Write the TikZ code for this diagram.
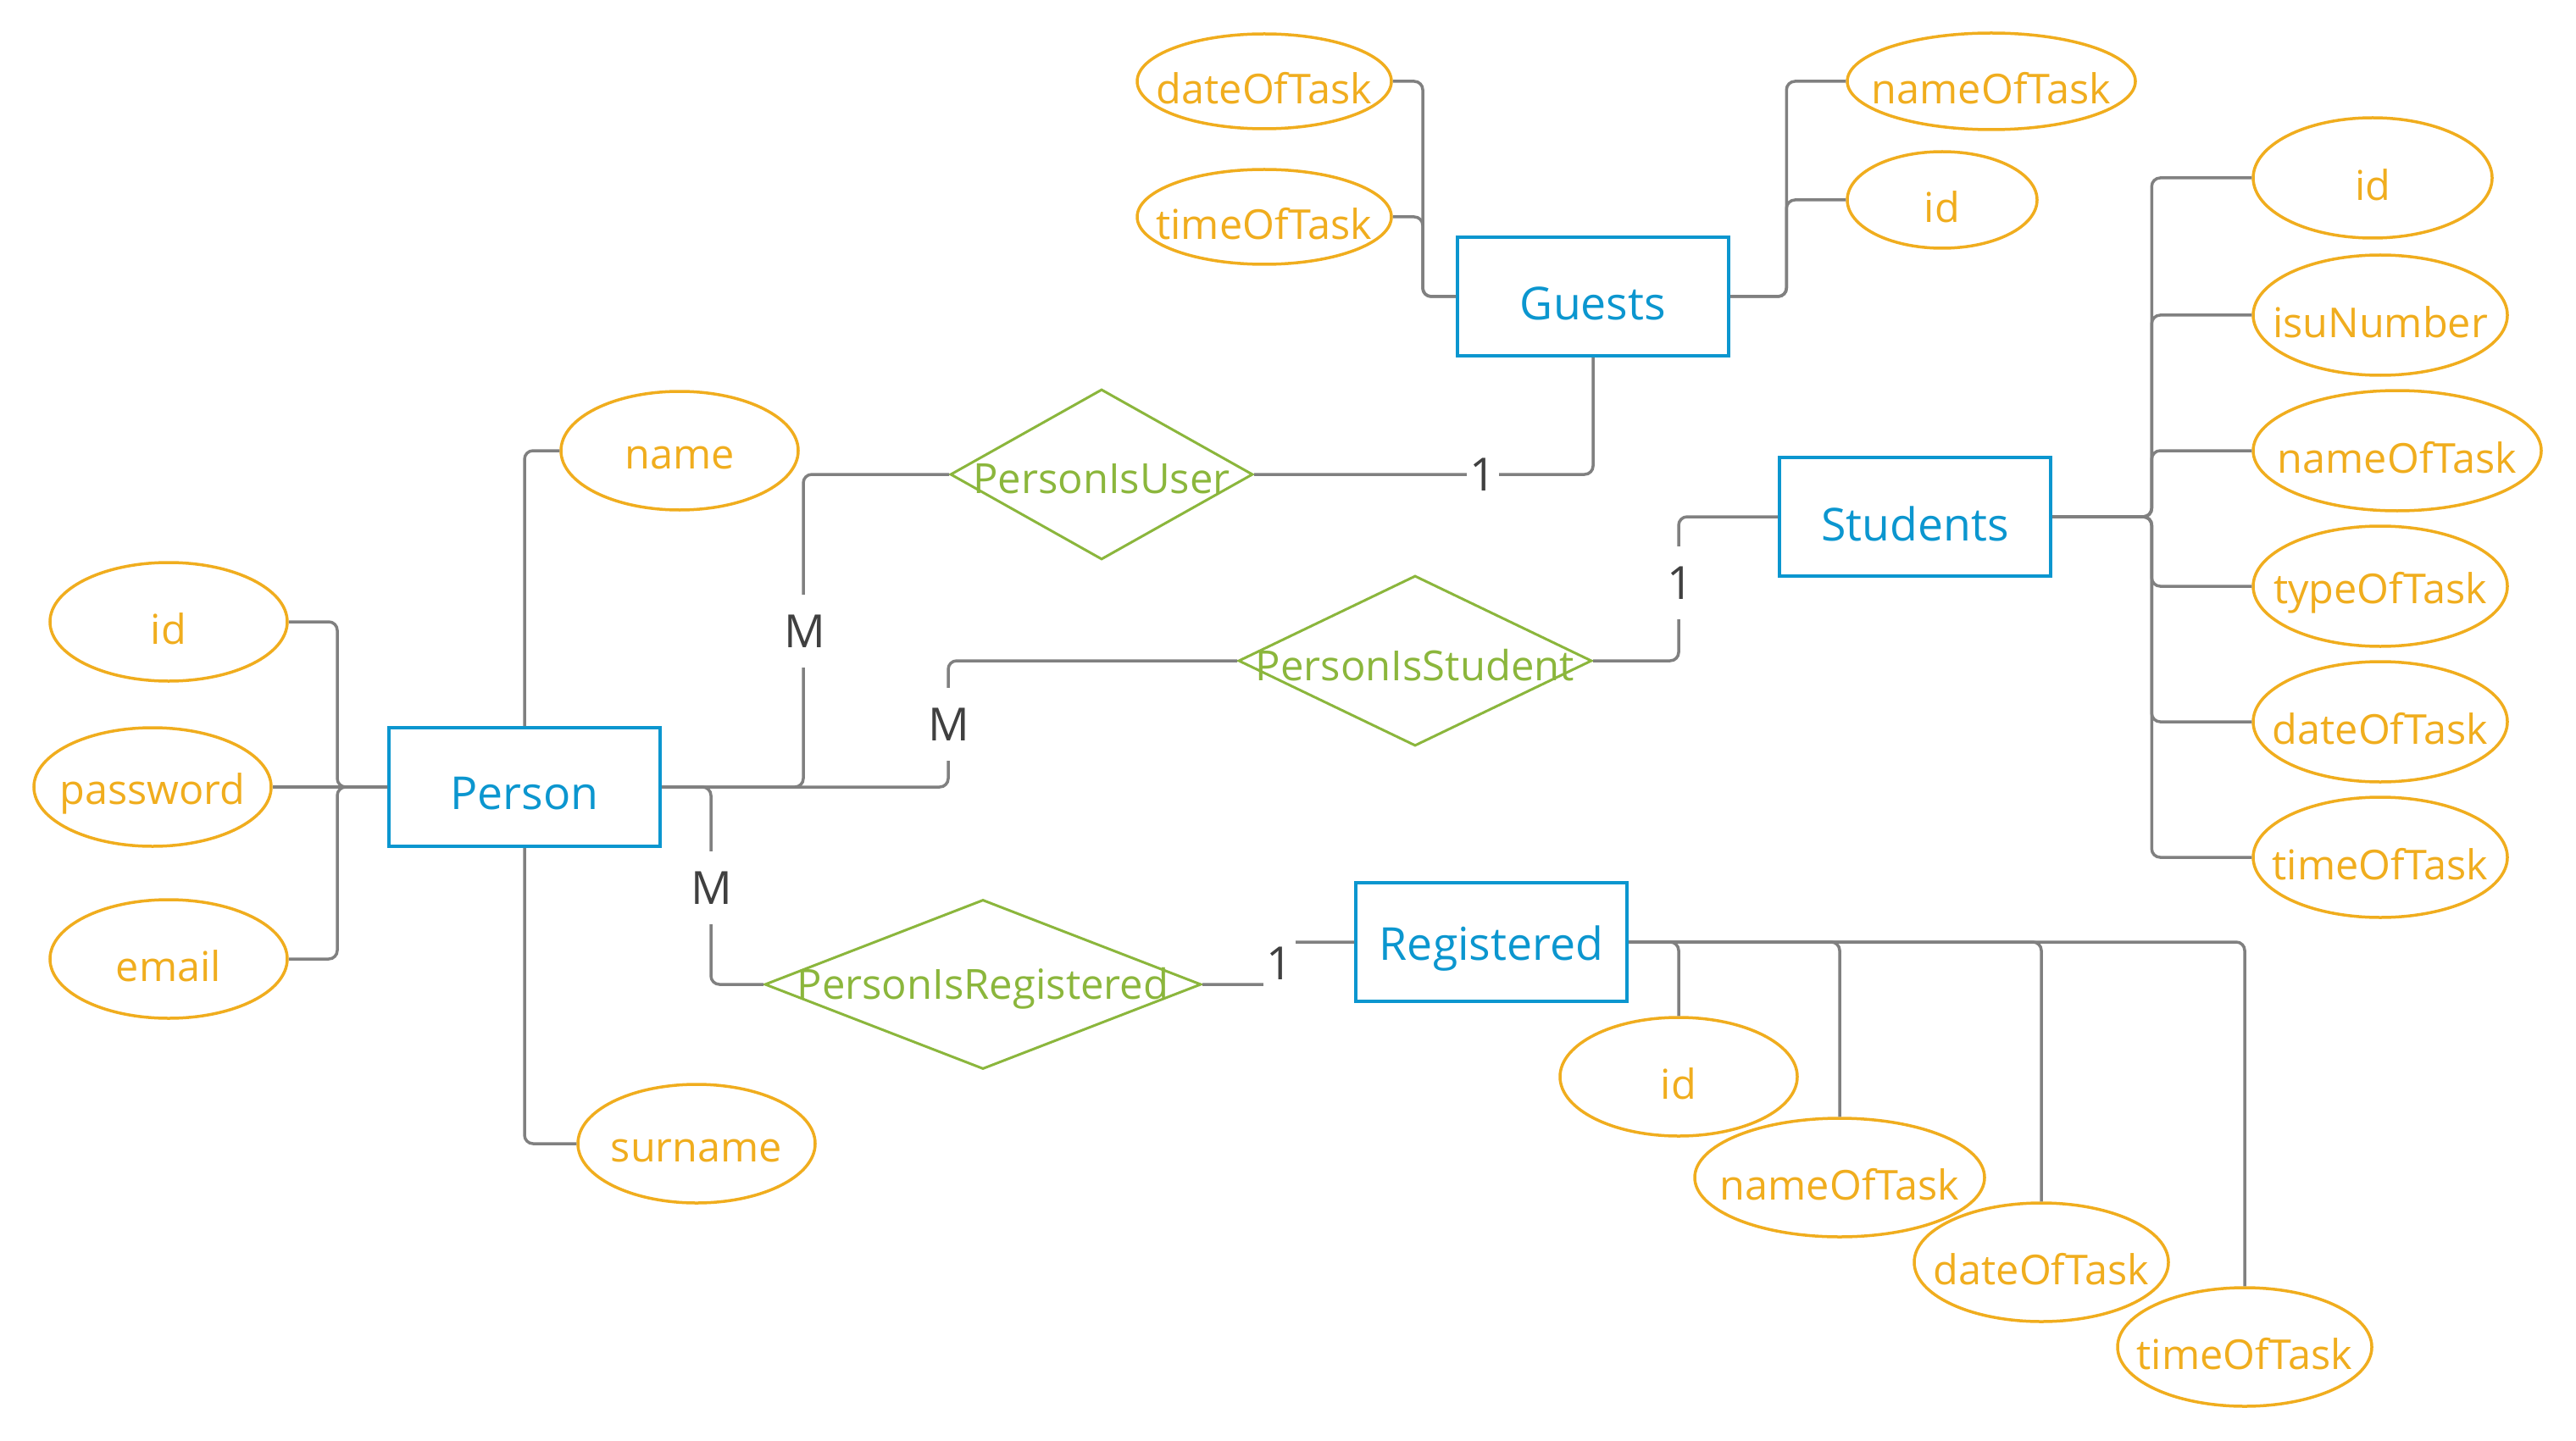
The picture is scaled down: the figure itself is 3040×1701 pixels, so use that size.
\documentclass[tikz,border=0pt]{standalone}
\usepackage{fontspec}
\setmainfont{Open Sans}
\usetikzlibrary{shapes.geometric}
\definecolor{attc}{HTML}{F0AD1E}
\definecolor{entc}{HTML}{0B96CF}
\definecolor{relc}{HTML}{8BB63C}
\definecolor{linec}{HTML}{808080}
\definecolor{cardc}{HTML}{404040}
\begin{document}
\begin{tikzpicture}[x=0.5pt,y=-0.5pt,
  ent/.style={draw=entc, line width=2pt, minimum width=160pt, minimum height=70pt, inner sep=0pt, label={[text=entc, font=\fontsize{26.8}{30}\selectfont, yshift=-4pt]center:#1}},
  att/.style={ellipse, draw=attc, line width=1.75pt, inner sep=0pt, label={[text=attc, font=\fontsize{24.3}{28}\selectfont, yshift=-4pt]center:#1}},
  rel/.style={diamond, draw=relc, line width=1.5pt, inner sep=0pt, label={[text=relc, font=\fontsize{24.5}{28}\selectfont, yshift=-2.5pt]center:#1}},
  link/.style={draw=linec, line width=1.75pt, rounded corners=5pt},
  card/.style={fill=white, text=cardc, inner xsep=2pt, inner ysep=0pt, minimum height=43pt, font=\fontsize{27}{30}\selectfont}]
\useasboundingbox (0,0) rectangle (3040,1701);
% entities
\node[ent=Person] (person) at (619,929) {};
\node[ent=Guests] (guests) at (1880,350) {};
\node[ent=Students] (students) at (2260,610) {};
\node[ent=Registered] (reg) at (1760,1112) {};
% relationships
\node[rel=PersonIsUser, minimum width=178.5pt, minimum height=100.5pt] (pu) at (1300,560) {};
\node[rel=PersonIsStudent, minimum width=208.5pt, minimum height=100.5pt] (ps) at (1670,780) {};
\node[rel=PersonIsRegistered, minimum width=257.5pt, minimum height=100pt] (pr) at (1160,1162) {};
% person attributes
\node[att=id, minimum width=140pt, minimum height=70pt] (pid) at (199,734) {};
\node[att=password, minimum width=140pt, minimum height=70pt] (ppw) at (180,929) {};
\node[att=email, minimum width=140pt, minimum height=70pt] (pem) at (199,1132) {};
\node[att=name, minimum width=140pt, minimum height=70pt] (pname) at (802,532) {};
\node[att=surname, minimum width=140pt, minimum height=70pt] (psur) at (822,1350) {};
% guests attributes
\node[att=dateOfTask, minimum width=150pt, minimum height=56pt] (gdate) at (1492,96) {};
\node[att=timeOfTask, minimum width=150pt, minimum height=56pt] (gtime) at (1492,256) {};
\node[att=nameOfTask, minimum width=170pt, minimum height=57pt] (gname) at (2350,96) {};
\node[att=id, minimum width=112pt, minimum height=57pt] (gid) at (2292,236) {};
% students attributes
\node[att=id, minimum width=141pt, minimum height=71pt] (sid) at (2800,210) {};
\node[att=isuNumber, minimum width=150pt, minimum height=71pt] (sisu) at (2809,372) {};
\node[att=nameOfTask, minimum width=170pt, minimum height=71pt] (sname) at (2829,532) {};
\node[att=typeOfTask, minimum width=150pt, minimum height=71pt] (stype) at (2809,692) {};
\node[att=dateOfTask, minimum width=150pt, minimum height=71pt] (sdate) at (2809,852) {};
\node[att=timeOfTask, minimum width=150pt, minimum height=71pt] (stime) at (2809,1012) {};
% registered attributes
\node[att=id, minimum width=140pt, minimum height=70pt] (rid) at (1981,1271) {};
\node[att=nameOfTask, minimum width=171pt, minimum height=70pt] (rname) at (2171,1390) {};
\node[att=dateOfTask, minimum width=150pt, minimum height=70pt] (rdate) at (2409,1490) {};
\node[att=timeOfTask, minimum width=150pt, minimum height=70pt] (rtime) at (2649,1590) {};
% card positions
\coordinate (k1) at (1510,1137);
% person attribute links
\draw[link] (pid.east) -| ([xshift=-29.5pt]person.west) -- (person.west);
\draw[link] (pem.east) -| ([xshift=-29.5pt]person.west) -- (person.west);
\draw[link] (ppw.east) -- (person.west);
\draw[link] (person.north) |- (pname.west);
\draw[link] (person.south) |- (psur.west);
% relationship links
\draw[link] (person.east) -| ([xshift=-86pt]pu.west) -- (pu.west);
\draw[link] (person.east) -| ([xshift=-170.5pt]ps.west) -- (ps.west);
\draw[link] (person.east) -| ([xshift=-31pt]pr.west) -- (pr.west);
\draw[link] (pu.east) -| (guests.south);
\draw[link] (ps.east) -| ([xshift=-58.5pt]students.west) -- (students.west);
\draw[link] (pr.east) -| (k1) |- (reg.west);
% guests links
\draw[link] (gdate.east) -| ([xshift=-19.5pt]guests.west) -- (guests.west);
\draw[link] (gtime.east) -| ([xshift=-19.5pt]guests.west) -- (guests.west);
\draw[link] (guests.east) -| ([xshift=-35pt]gname.west) -- (gname.west);
\draw[link] (guests.east) -| ([xshift=-35pt]gid.west) -- (gid.west);
% students links
\foreach \a in {sid,sisu,sname,stype,sdate,stime}
  \draw[link] (students.east) -| ([xshift=-59pt]\a.west) -- (\a.west);
% registered links
\foreach \a in {rid,rname,rdate,rtime}
  \draw[link] (reg.east) -| (\a.north);
% cardinalities
\node[card] (m1) at (950,745) {M};
\node[card] (m2) at (1120,855) {M};
\node[card] (m3) at (840,1048) {M};
\node[card] (o1) at (1750,560) {1};
\node[card] (o2) at (1983,688) {1};
\node[card] (o3) at (k1) {1};
\end{tikzpicture}
\end{document}
